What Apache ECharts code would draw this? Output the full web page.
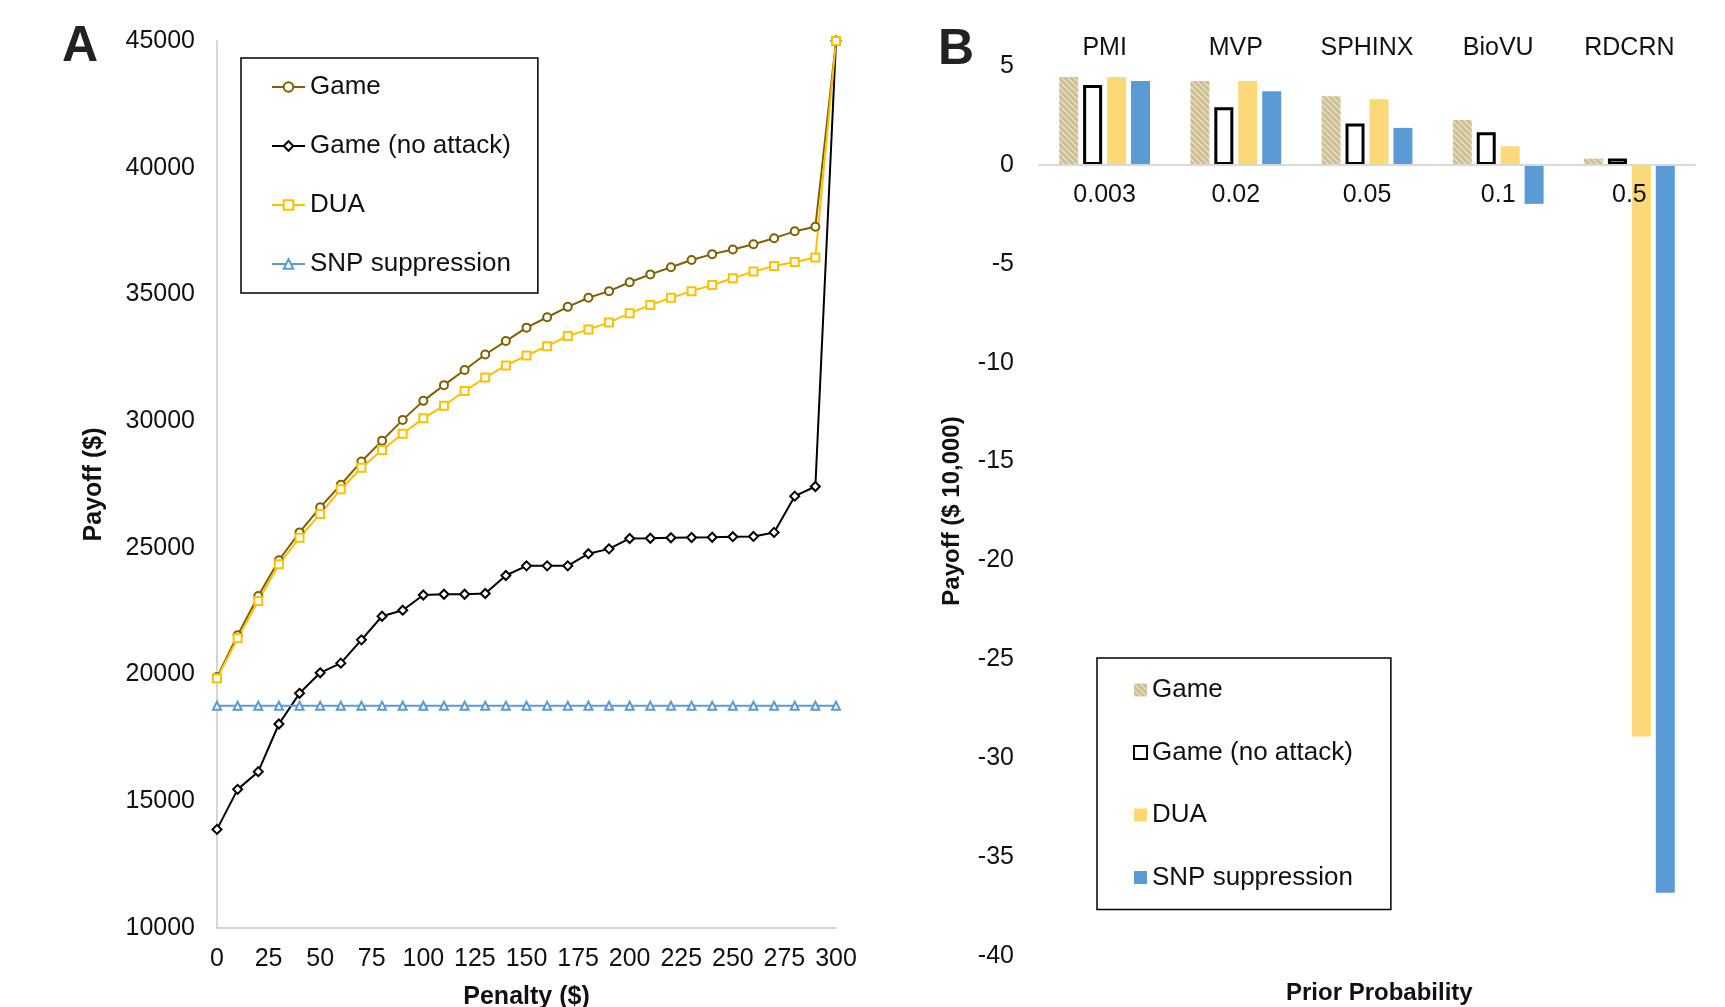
<!DOCTYPE html>
<html><head><meta charset="utf-8">
<script src="https://cdn.jsdelivr.net/npm/echarts@6/dist/echarts.min.js"></script>
<style>
html,body{margin:0;padding:0;background:#fff;}
#a{position:absolute;left:0;top:0;width:930px;height:1007px;}
#b{position:absolute;left:930px;top:0;width:795px;height:1007px;}
</style>
</head><body><div id="a"></div><div id="b"></div>
<script>
// ---------- Panel A data ----------
const penalty = [0,10,20,30,40,50,60,70,80,90,100,110,120,130,140,150,160,170,180,190,200,210,220,230,240,250,260,270,280,290,300];
const game = [19900,21550,23100,24510,25610,26600,27490,28410,29230,30050,30800,31420,32020,32630,33160,33690,34100,34510,34870,35130,35480,35790,36070,36360,36590,36770,36980,37220,37490,37670,45000];
const gameNoAttack = [13890,15470,16170,18050,19260,20070,20450,21370,22300,22540,23140,23170,23170,23200,23910,24290,24290,24290,24770,24960,25370,25380,25400,25410,25420,25440,25450,25610,27040,27420,45000];
const dua = [19850,21430,22900,24350,25400,26340,27310,28160,28860,29500,30110,30610,31190,31720,32200,32590,32960,33360,33620,33890,34260,34580,34870,35130,35370,35640,35900,36120,36280,36460,45000];
const snp = [18770,18770,18770,18770,18770,18770,18770,18770,18770,18770,18770,18770,18770,18770,18770,18770,18770,18770,18770,18770,18770,18770,18770,18770,18770,18770,18770,18770,18770,18770,18770];

// ---------- Panel B data ----------
const studies = ['PMI','MVP','SPHINX','BioVU','RDCRN'];
const priors = ['0.003','0.02','0.05','0.1','0.5'];
const barGame = [4.44,4.24,3.47,2.27,0.32];
const barNoAttack = [4.04,2.91,2.09,1.65,0.32];
const barDUA = [4.44,4.24,3.32,0.94,-28.9];
const barSNP = [4.24,3.72,1.87,-1.97,-36.8];

const FONT = '"Liberation Sans", Arial, sans-serif';
const TXT = '#111';

function hatchPattern(){
  const c = document.createElement('canvas'); c.width = 6; c.height = 6;
  const g = c.getContext('2d');
  g.fillStyle = '#CDBE93'; g.fillRect(0,0,6,6);
  g.strokeStyle = '#EAE2C8'; g.lineWidth = 1.4;
  for (const o of [-6,0,6]) { g.beginPath(); g.moveTo(o,0); g.lineTo(o+6,6); g.stroke(); }
  return {image: c, repeat: 'repeat'};
}
function dotPattern(){
  const c = document.createElement('canvas'); c.width = 4; c.height = 4;
  const g = c.getContext('2d');
  g.fillStyle = '#FFD865'; g.fillRect(0,0,4,4);
  g.fillStyle = '#FFE394'; g.fillRect(0,0,1,1); g.fillRect(2,2,1,1);
  return {image: c, repeat: 'repeat'};
}

const pts = arr => penalty.map((x,i)=>[x, arr[i]]);

// ---------- Chart A ----------
const chartA = echarts.init(document.getElementById('a'), null, {renderer:'canvas'});
chartA.setOption({
  animation:false,
  textStyle:{fontFamily:FONT},
  graphic:[{type:'text', left:62, top:22, style:{text:'A', fontSize:50, fontWeight:'bold', fontFamily:FONT, fill:'#222'}}],
  grid:{left:217, top:41, width:619, height:887, outerBoundsMode:'none', containLabel:false},
  legend:{
    orient:'vertical', left:241, top:58,
    padding:[16,27,16,30], itemGap:33, itemWidth:33, itemHeight:12,
    borderColor:'#000', borderWidth:1.5,
    textStyle:{fontSize:26, lineHeight:26, color:TXT, fontFamily:FONT},
    data:['Game','Game (no attack)','DUA','SNP suppression']
  },
  xAxis:{type:'value', min:0, max:300, interval:25,
    axisLine:{show:true, lineStyle:{color:'#C8C8C8', width:1.5}},
    axisTick:{show:false}, splitLine:{show:false},
    axisLabel:{fontSize:25, color:TXT, margin:19, fontFamily:FONT},
    name:'Penalty ($)', nameLocation:'middle', nameGap:57,
    nameTextStyle:{fontSize:25, fontWeight:'bold', color:TXT, fontFamily:FONT}
  },
  yAxis:{type:'value', min:10000, max:45000, interval:5000,
    axisLine:{show:true, lineStyle:{color:'#C8C8C8', width:1.5}},
    axisTick:{show:false}, splitLine:{show:false},
    axisLabel:{fontSize:25, color:TXT, margin:22, fontFamily:FONT, formatter: v => String(v)},
    name:'Payoff ($)', nameLocation:'middle', nameGap:110,
    nameTextStyle:{fontSize:25, fontWeight:'bold', color:TXT, fontFamily:FONT}
  },
  series:[
    {name:'Game', type:'line', data:pts(game), symbol:'emptyCircle', symbolSize:8,
      lineStyle:{color:'#7F6000', width:2}, itemStyle:{color:'#7F6000', borderWidth:1.8}},
    {name:'Game (no attack)', type:'line', data:pts(gameNoAttack), symbol:'emptyDiamond', symbolSize:9,
      lineStyle:{color:'#000', width:2}, itemStyle:{color:'#000', borderWidth:1.8}},
    {name:'DUA', type:'line', data:pts(dua), symbol:'emptyRect', symbolSize:8,
      lineStyle:{color:'#FFC000', width:2}, itemStyle:{color:'#FFC000', borderWidth:1.8}},
    {name:'SNP suppression', type:'line', data:pts(snp), symbol:'emptyTriangle', symbolSize:8,
      lineStyle:{color:'#5B9BD5', width:2}, itemStyle:{color:'#5B9BD5', borderWidth:1.8}}
  ]
});

// ---------- Chart B ----------
const chartB = echarts.init(document.getElementById('b'), null, {renderer:'canvas'});
const gameFill = hatchPattern();
const duaFill = dotPattern();
const GRID_B = {left:109, top:66, width:656, height:890, outerBoundsMode:'none', containLabel:false};
const Y_MIN = -40, Y_MAX = 5;
// pixel distance from the grid bottom up to the zero line (layout only)
const zeroOffset = -GRID_B.height * (0 - Y_MIN) / (Y_MAX - Y_MIN);
chartB.setOption({
  animation:false,
  textStyle:{fontFamily:FONT},
  graphic:[
    {type:'text', left:8, top:25, style:{text:'B', fontSize:50, fontWeight:'bold', fontFamily:FONT, fill:'#222'}},
    {type:'text', left:356, top:981, style:{text:'Prior Probability', fontSize:24, fontWeight:'bold', fontFamily:FONT, fill:TXT}}
  ],
  grid:GRID_B,
  legend:{
    orient:'vertical', left:167, top:658,
    padding:[19,38,19,36], itemGap:36.5, itemWidth:13, itemHeight:13, icon:'rect',
    borderColor:'#000', borderWidth:1.5,
    textStyle:{fontSize:26, lineHeight:26, color:TXT, fontFamily:FONT},
    data:['Game','Game (no attack)','DUA','SNP suppression']
  },
  xAxis:[
    {type:'category', data:priors, position:'bottom', offset:zeroOffset, z:10,
      axisLine:{show:true, onZero:false, lineStyle:{color:'#D9D9D9', width:2}},
      axisTick:{show:false}, splitLine:{show:false},
      axisLabel:{fontSize:25, color:TXT, margin:18, fontFamily:FONT}},
    {type:'category', data:studies, position:'top', z:10,
      axisLine:{show:false, onZero:false}, axisTick:{show:false}, splitLine:{show:false},
      axisLabel:{fontSize:25, color:TXT, margin:5, fontFamily:FONT}}
  ],
  yAxis:{type:'value', min:Y_MIN, max:Y_MAX, interval:5,
    axisLine:{show:false}, axisTick:{show:false}, splitLine:{show:false},
    axisLabel:{fontSize:25, color:TXT, margin:25, fontFamily:FONT},
    name:'Payoff ($ 10,000)', nameLocation:'middle', nameGap:75,
    nameTextStyle:{fontSize:24, fontWeight:'bold', color:TXT, fontFamily:FONT}
  },
  series:[
    {name:'Game', type:'bar', xAxisIndex:0, data:barGame, barWidth:19, barGap:'26%',
      itemStyle:{color:gameFill}},
    {name:'Game (no attack)', type:'bar', xAxisIndex:0, data:barNoAttack, barWidth:19, barGap:'26%',
      itemStyle:{color:'#fff', borderColor:'#000', borderWidth:3}},
    {name:'DUA', type:'bar', xAxisIndex:0, data:barDUA, barWidth:19, barGap:'26%',
      itemStyle:{color:duaFill}},
    {name:'SNP suppression', type:'bar', xAxisIndex:0, data:barSNP, barWidth:19, barGap:'26%',
      itemStyle:{color:'#5B9BD5'}}
  ]
});
</script>
</body></html>
